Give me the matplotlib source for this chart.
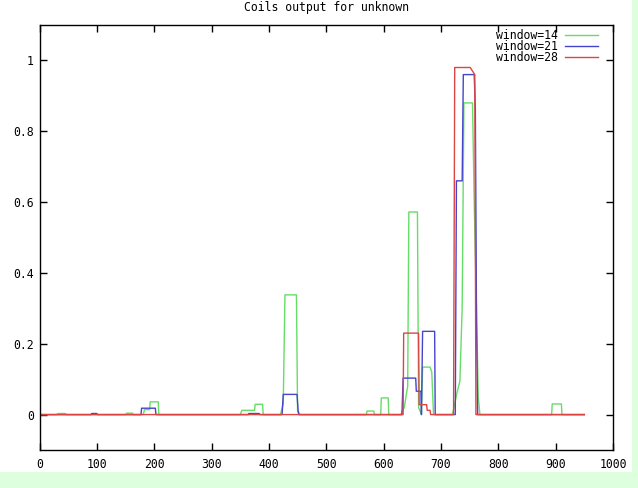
import matplotlib.pyplot as plt
from matplotlib.patches import Rectangle

# -----------------------
# Data
# -----------------------
title = "Coils output for unknown"
labels = ["window=14", "window=21", "window=28"]
colors = ["#66DD66", "#4444CC", "#DD4444"]

x14 = [0, 30, 32, 45, 47, 150, 152, 162, 164, 181, 183, 192, 193, 207, 208,
       350, 353, 375, 376, 389, 390, 420, 425, 428, 448, 450, 452,
       570, 571, 583, 584, 595, 596, 608, 609, 630, 636, 642, 644, 659, 661,
       666, 668, 681, 684, 687, 720, 724, 728, 733, 737, 740, 755, 758, 762,
       765, 768, 893, 894, 910, 911, 950]
y14 = [0, 0, 0.003, 0.003, 0, 0, 0.004, 0.004, 0, 0, 0.014, 0.014, 0.036, 0.036, 0,
       0, 0.012, 0.012, 0.029, 0.029, 0, 0, 0.03, 0.338, 0.338, 0.01, 0,
       0, 0.01, 0.01, 0, 0, 0.047, 0.047, 0, 0, 0.02, 0.08, 0.572, 0.572, 0.02,
       0, 0.134, 0.134, 0.12, 0, 0, 0.03, 0.062, 0.094, 0.3, 0.88, 0.88, 0.6, 0.3,
       0.05, 0, 0, 0.03, 0.03, 0, 0]

x21 = [0, 90, 91, 100, 101, 177, 178, 202, 203, 364, 365, 383, 384,
       423, 425, 449, 451, 453, 632, 634, 656, 657, 665, 666, 668, 689, 690,
       725, 727, 737, 739, 758, 760, 762, 764, 950]
y21 = [0, 0, 0.003, 0.003, 0, 0, 0.018, 0.018, 0, 0, 0.003, 0.003, 0,
       0, 0.057, 0.057, 0.01, 0, 0, 0.103, 0.103, 0.066, 0.066, 0.0, 0.235, 0.235, 0,
       0, 0.66, 0.66, 0.96, 0.96, 0.86, 0.26, 0, 0]

x28 = [0, 634, 635, 661, 662, 675, 676, 681, 682, 722, 724, 751, 759, 761, 950]
y28 = [0, 0, 0.23, 0.23, 0.028, 0.028, 0.012, 0.012, 0, 0, 0.98, 0.98, 0.96, 0, 0]

series = [(x14, y14), (x21, y21), (x28, y28)]

# -----------------------
# Figure
# -----------------------
plt.rcParams["font.family"] = ["DejaVu Sans Mono"]
plt.rcParams["font.size"] = 8

fig = plt.figure(figsize=(6.38, 4.88), dpi=100, facecolor="#DDFFDD")
fig.patches.append(Rectangle((0, 16 / 488), 632 / 638, 472 / 488,
                             transform=fig.transFigure, facecolor="white",
                             edgecolor="none", zorder=-10))

ax = fig.add_axes([39.5 / 638, 38 / 488, 573.5 / 638, 425 / 488])
ax.set_facecolor("white")

for (xs, ys), lab, col in zip(series, labels, colors):
    ax.plot(xs, ys, color=col, lw=1, label=lab)

ax.set_xlim(0, 1000)
ax.set_ylim(-0.1, 1.1)
ax.set_xticks(range(0, 1001, 100))
ax.set_yticks([0, 0.2, 0.4, 0.6, 0.8, 1])
ax.set_yticklabels(["0", "0.2", "0.4", "0.6", "0.8", "1"])
ax.tick_params(direction="in", length=5, width=1, top=True, right=True,
               labelsize=8.3)
ax.tick_params(axis="x", pad=6)
ax.tick_params(axis="y", pad=4)
for s in ax.spines.values():
    s.set_linewidth(1)

ax.set_title(title, fontsize=8.3, pad=10)

# legend: text left of the sample line, gnuplot style
ax.legend(loc="upper right", bbox_to_anchor=(0.974, 0.99), markerfirst=False,
          frameon=False, fontsize=8.3, handlelength=2.9, handletextpad=0.6,
          labelspacing=-0.2, borderaxespad=0, borderpad=0)

plt.savefig("out.png", dpi=100, facecolor=fig.get_facecolor())
plt.close()
